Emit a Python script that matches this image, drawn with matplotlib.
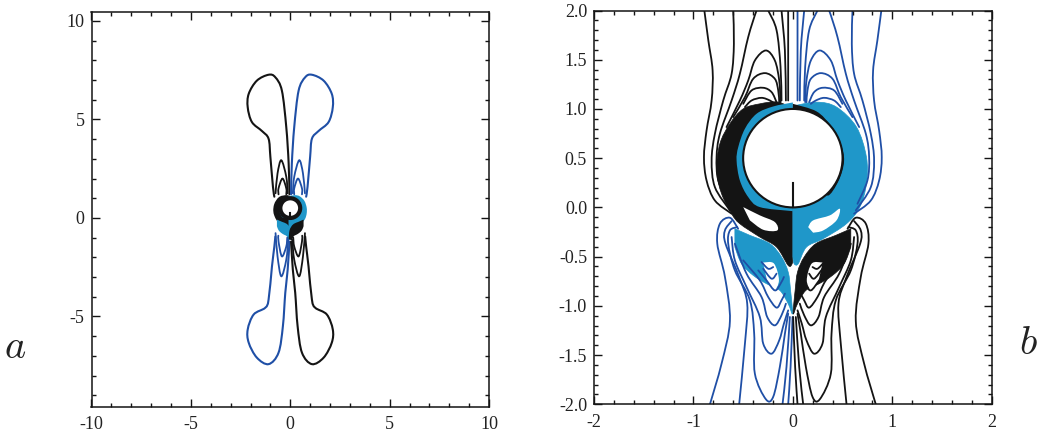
import matplotlib
matplotlib.use('Agg')
import numpy as np
import matplotlib.pyplot as plt
from matplotlib.path import Path
from matplotlib.patches import PathPatch, Circle
from matplotlib.ticker import MultipleLocator

plt.rcParams['font.family'] = ['Liberation Serif', 'DejaVu Serif']
plt.rcParams['mathtext.fontset'] = 'cm'

BLACK = '#141414'
BLUE = '#1f4fa6'
CYAN = '#1f97c9'

# contours of panel b, upper left quadrant (black)
upper_contours = [
    [(-0.89, 2.0), (-0.85, 1.695), (-0.807, 1.39), (-0.817, 1.086), (-0.868, 0.78), (-0.894, 0.51),
     (-0.868, 0.274), (-0.784, 0.07), (-0.616, -0.064)],
    [(-0.6, 2.0), (-0.593, 1.66), (-0.616, 1.357), (-0.70, 1.086), (-0.784, 0.748), (-0.817, 0.477),
     (-0.784, 0.206), (-0.633, -0.03)],
    [(-0.65, 0.037), (-0.75, 0.274), (-0.767, 0.51), (-0.734, 0.748), (-0.616, 1.086), (-0.533, 1.357),
     (-0.449, 1.73), (-0.365, 2.0), (-0.31, 2.12), (-0.248, 2.0), (-0.164, 1.8), (-0.124, 1.43), (-0.114, 1.086)],
    [(-0.667, 0.816), (-0.533, 1.086), (-0.449, 1.289), (-0.382, 1.492), (-0.271, 1.594), (-0.181, 1.492),
     (-0.137, 1.289), (-0.124, 1.069)],
    [(-0.6, 0.917), (-0.482, 1.12), (-0.399, 1.306), (-0.281, 1.364), (-0.181, 1.306), (-0.147, 1.188),
     (-0.137, 1.069)],
    [(-0.499, 1.052), (-0.415, 1.188), (-0.298, 1.215), (-0.214, 1.171), (-0.164, 1.069)],
    [(-0.482, 1.019), (-0.415, 1.086), (-0.315, 1.113), (-0.231, 1.086), (-0.181, 1.052)],
    [(-0.114, 2.0), (-0.08, 1.594), (-0.07, 1.086)],
    [(-0.047, 2.0), (-0.047, 1.086)],
]

# lower left quadrant (blue)
lower_contours = [
    [(-0.834, -2.0), (-0.717, -1.587), (-0.633, -1.154), (-0.683, -0.707), (-0.76, -0.369), (-0.734, -0.166),
     (-0.633, -0.105), (-0.55, -0.217)],
    [(-0.54, -2.0), (-0.482, -1.384), (-0.459, -0.978), (-0.54, -0.707), (-0.677, -0.369), (-0.683, -0.234),
     (-0.616, -0.139)],
    [(-0.559, -0.2), (-0.633, -0.234), (-0.65, -0.369), (-0.583, -0.64), (-0.432, -0.944), (-0.389, -1.283),
     (-0.382, -1.689), (-0.271, -1.949), (-0.198, -1.925), (-0.131, -1.621), (-0.08, -1.283), (-0.047, -1.08)],
    [(-0.616, -0.301), (-0.583, -0.538), (-0.466, -0.809), (-0.332, -1.113), (-0.298, -1.384), (-0.214, -1.486),
     (-0.137, -1.35), (-0.09, -1.181), (-0.047, -1.046)],
    [(-0.583, -0.369), (-0.466, -0.673), (-0.315, -0.91), (-0.258, -1.113), (-0.181, -1.198), (-0.114, -1.096),
     (-0.07, -0.978)],
    [(-0.499, -0.538), (-0.332, -0.741), (-0.248, -0.91), (-0.164, -1.018), (-0.114, -0.944), (-0.08, -0.876)],
    [(-0.348, -0.64), (-0.265, -0.741), (-0.181, -0.843), (-0.124, -0.775), (-0.09, -0.707)],
    [(-0.298, -0.623), (-0.214, -0.724), (-0.164, -0.673)],
    [(-0.315, -0.555), (-0.248, -0.623), (-0.198, -0.606)],
    [(-0.104, -2.0), (-0.064, -1.621), (-0.03, -1.113)],
    [(-0.047, -2.0), (-0.023, -1.621), (-0.003, -1.113)],
]

# dense regions
left_black = [(0, 1.0), (-0.15, 1.07), (-0.332, 1.052), (-0.5, 1.0), (-0.633, 0.85), (-0.734, 0.646), (-0.767, 0.376),
              (-0.717, 0.139), (-0.616, -0.064), (-0.533, -0.166), (-0.332, -0.301), (-0.164, -0.403),
              (-0.047, -0.589), (-0.007, -0.572), (0, -0.5)]
left_blue = [(0, 1.066), (-0.198, 1.025), (-0.365, 0.951), (-0.482, 0.799), (-0.549, 0.613), (-0.566, 0.477),
             (-0.533, 0.274), (-0.449, 0.105), (-0.332, 0.003), (-0.013, -0.037), (0, -0.037)]
right_blue = [(0, 1.03), (0.238, 1.069), (0.439, 1.019), (0.64, 0.816), (0.74, 0.511), (0.74, 0.24), (0.673, 0.003),
              (0.539, -0.166), (0.305, -0.318), (0.137, -0.403), (0.054, -0.572), (0.013, -0.572), (0, -0.5)]
right_black = [(0, 1.052), (0.238, 0.975), (0.38, 0.83), (0.48, 0.65), (0.515, 0.47), (0.46, 0.27),
               (0.35, 0.12), (0.3, 0.3), (0.3, 0.7), (0, 0.9)]
hole_left = [(-0.499, 0.003), (-0.332, -0.081), (-0.181, -0.149), (-0.157, -0.234), (-0.298, -0.227), (-0.432, -0.132)]
hole_right = [(0.154, -0.2), (0.204, -0.132), (0.372, -0.081), (0.472, -0.014), (0.439, -0.132), (0.305, -0.234),
              (0.204, -0.257)]
lower_wedge = [(-0.583, -0.217), (-0.432, -0.284), (-0.231, -0.369), (-0.114, -0.504), (-0.047, -0.657),
               (-0.023, -0.843), (-0.003, -1.08), (-0.047, -0.978), (-0.131, -0.843), (-0.265, -0.775),
               (-0.399, -0.69), (-0.516, -0.572), (-0.583, -0.403)]
wedge_gap = [(-0.30, -0.56), (-0.19, -0.57), (-0.14, -0.74), (-0.19, -0.84), (-0.26, -0.74)]

# panel a
lobe_upper = [(-0.04, 1.2), (-0.08, 2.76), (-0.2, 4.61), (-0.42, 6.46), (-0.75, 7.14), (-1.09, 7.27), (-1.68, 6.97),
              (-2.09, 6.30), (-2.14, 5.62), (-1.93, 4.87), (-1.42, 4.41), (-1.09, 4.02), (-1.0, 3.10), (-0.87, 1.58),
              (-0.8, 1.08)]
lobe_lower = [(-0.04, -1.2), (-0.13, -2.63), (-0.25, -3.8), (-0.37, -5.49), (-0.59, -6.84), (-1.09, -7.42),
              (-1.68, -7.09), (-2.09, -6.33), (-2.14, -5.66), (-1.84, -4.9), (-1.26, -4.56), (-1.09, -4.14),
              (-0.92, -2.46), (-0.8, -1.45), (-0.75, -0.94)]
inner_upper = [
    [(-0.74, 1.25), (-0.64, 2.26), (-0.45, 2.93), (-0.2, 2.09), (-0.13, 1.25)],
    [(-0.59, 1.2), (-0.59, 1.5), (-0.39, 2.0), (-0.2, 1.5), (-0.2, 1.2)],
]
inner_lower = [
    [(-0.74, -0.77), (-0.64, -1.95), (-0.45, -2.96), (-0.2, -2.12), (-0.1, -1.11)],
    [(-0.6, -0.9), (-0.59, -1.2), (-0.42, -1.95), (-0.2, -1.45), (-0.15, -1.0)],
]

ticks_b_y = [-2.0, -1.5, -1.0, -0.5, 0.0, 0.5, 1.0, 1.5, 2.0]
ticks_b_x = [-2, -1, 0, 1, 2]
ticks_a_x = [-10, -5, 0, 5, 10]
ticks_a_y = [-5, 0, 5, 10]


def smooth(points, closed=False):
    # catmull-rom knots to bezier segments, so curves do not look faceted
    p = np.array(points, dtype=float)
    n = len(p)
    verts = [p[0]]
    codes = [Path.MOVETO]
    for i in range(n - 1):
        p0, p1, p2, p3 = p[max(i - 1, 0)], p[i], p[i + 1], p[min(i + 2, n - 1)]
        verts += [p1 + (p2 - p0) / 6, p2 - (p3 - p1) / 6, p2]
        codes += [Path.CURVE4] * 3
    if closed:
        verts.append(p[0])
        codes.append(Path.CLOSEPOLY)
    return Path(verts, codes)


def curve(ax, points, color, lw, flip=False):
    pts = [(-x, y) for x, y in points] if flip else points
    ax.add_patch(PathPatch(smooth(pts), fc='none', ec=color, lw=lw, capstyle='round'))


def region(ax, points, color, edge=0.0, flip=False):
    pts = [(-x, y) for x, y in points] if flip else points
    ax.add_patch(PathPatch(smooth(pts, closed=True), fc=color, ec=color, lw=edge))


def draw_core(ax, edge, lw_circle):
    region(ax, left_black, BLACK, edge)
    region(ax, right_blue, CYAN, edge)
    region(ax, left_blue, CYAN)
    region(ax, right_black, BLACK)
    region(ax, lower_wedge, CYAN, edge)
    region(ax, lower_wedge, BLACK, edge, flip=True)
    ax.add_patch(Circle((0, 0.5), 0.5, fc='white', ec=BLACK, lw=lw_circle))
    ax.plot([0, 0], [0, 0.25], color=BLACK, lw=min(lw_circle, 1.5))


fig = plt.figure(figsize=(10.37, 4.32), dpi=100)
W, H = 1037.0, 432.0
ax_a = fig.add_axes([91.5 / W, (H - 406.5) / H, 397.5 / W, 394.8 / H])
ax_b = fig.add_axes([594 / W, (H - 404.3) / H, 397.7 / W, 393.8 / H])

# panel a
draw_core(ax_a, 2.5, 3.0)
curve(ax_a, lobe_upper, BLACK, 1.5)
curve(ax_a, lobe_upper, BLUE, 1.5, flip=True)
curve(ax_a, lobe_lower, BLUE, 1.5)
curve(ax_a, lobe_lower, BLACK, 1.5, flip=True)
for c in inner_upper:
    curve(ax_a, c, BLACK, 1.3)
    curve(ax_a, c, BLUE, 1.3, flip=True)
for c in inner_lower:
    curve(ax_a, c, BLUE, 1.3)
    curve(ax_a, c, BLACK, 1.3, flip=True)
ax_a.set_xticks(ticks_a_x)
ax_a.set_yticks(ticks_a_y)
ax_a.set_xticklabels([str(t) for t in ticks_a_x])
ax_a.set_yticklabels([str(t) for t in ticks_a_y])
ax_a.xaxis.set_minor_locator(MultipleLocator(1))
ax_a.yaxis.set_minor_locator(MultipleLocator(1))
ax_a.set_xlim(-10, 10)
ax_a.set_ylim(-9.57, 10.47)

# panel b
draw_core(ax_b, 0.5, 1.5)
for hole in (hole_left, hole_right, wedge_gap):
    region(ax_b, hole, 'white')
region(ax_b, wedge_gap, 'white', flip=True)
for c in upper_contours:
    curve(ax_b, c, BLACK, 1.3)
    curve(ax_b, c, BLUE, 1.3, flip=True)
for c in lower_contours:
    curve(ax_b, c, BLUE, 1.3)
    curve(ax_b, c, BLACK, 1.3, flip=True)
ax_b.set_xticks(ticks_b_x)
ax_b.set_yticks(ticks_b_y)
ax_b.set_xticklabels([str(t) for t in ticks_b_x])
ax_b.set_yticklabels(['%.1f' % t for t in ticks_b_y])
ax_b.xaxis.set_minor_locator(MultipleLocator(0.2))
ax_b.yaxis.set_minor_locator(MultipleLocator(0.1))
ax_b.set_xlim(-2, 2)
ax_b.set_ylim(-2, 2)

for ax in (ax_a, ax_b):
    ax.tick_params(which='both', direction='in', top=True, right=True, width=1.0, color=BLACK)
    ax.tick_params(which='major', length=5.8, labelsize=13, pad=5, labelcolor='#222222')
    ax.tick_params(which='minor', length=2.9)
    ax.tick_params(axis='x', which='major', pad=7)
    for s in ax.spines.values():
        s.set_linewidth(1.1)
        s.set_color(BLACK)

fig.text(15 / W, 1 - 348 / H, '$a$', fontsize=29, ha='center', va='center', color='#222222')
fig.text(1028 / W, 1 - 345 / H, '$b$', fontsize=29, ha='center', va='center', color='#222222')

fig.savefig('out.png', dpi=100)
